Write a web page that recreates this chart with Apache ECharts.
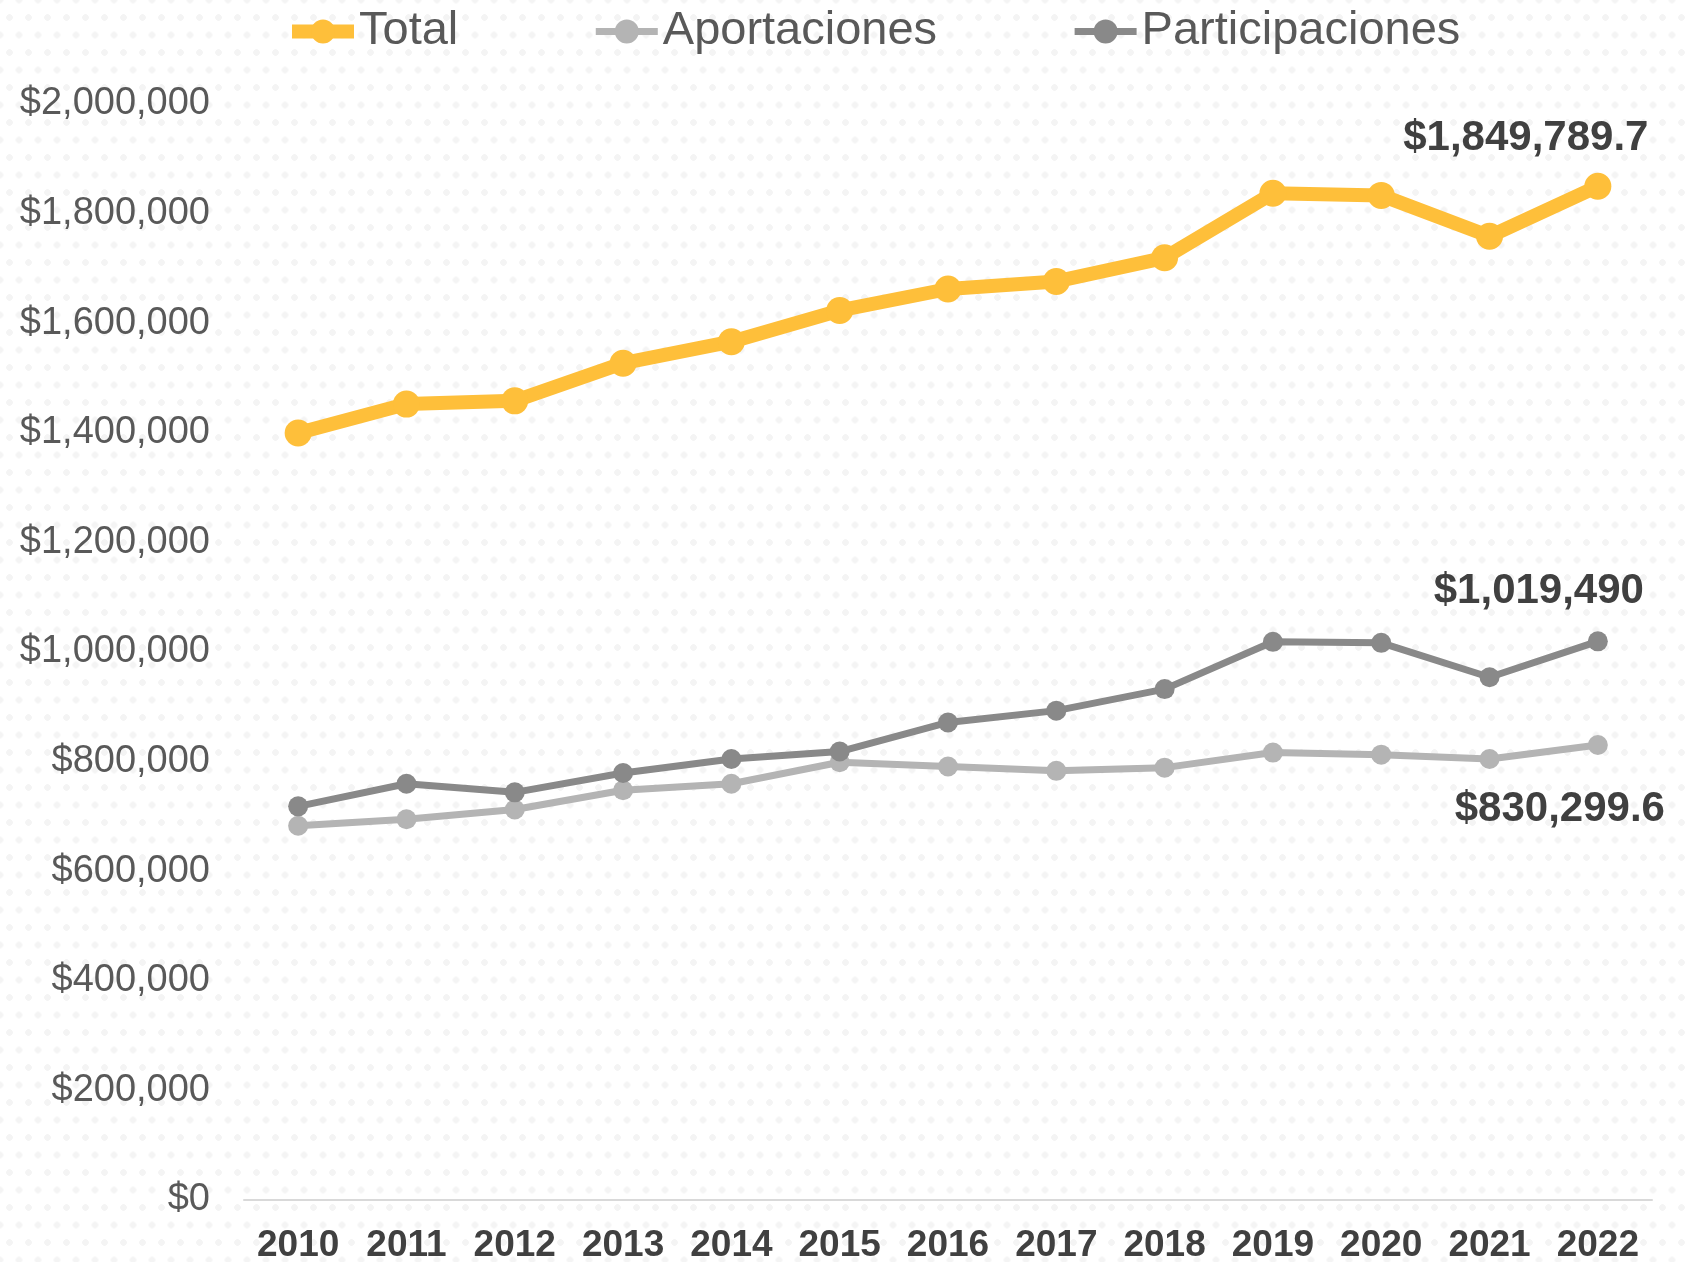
<!DOCTYPE html>
<html lang="es">
<head>
<meta charset="UTF-8">
<title>Total, Aportaciones y Participaciones</title>
<script src="https://cdn.jsdelivr.net/npm/echarts@6/dist/echarts.min.js"></script>
<style>
html, body { margin: 0; padding: 0; background: #fff; }
#chart {
width: 1686px;
height: 1262px;
background-color: #fff;
background-image:
radial-gradient(circle, #f4f4f4 3px, transparent 3.6px),
radial-gradient(circle, #f4f4f4 3px, transparent 3.6px);
background-size: 19px 35px, 19px 35px;
background-position: 0 0, 9.5px 17.5px;
}
</style>
</head>
<body>
<div id="chart"></div>
<script>
const years = ['2010', '2011', '2012', '2013', '2014', '2015', '2016', '2017', '2018', '2019', '2020', '2021', '2022'];
const total = [1399500, 1452400, 1458300, 1527000, 1566200, 1623200, 1662400, 1676200, 1719300, 1837100, 1833200, 1758600, 1849789.7];
const aportaciones = [683000, 694800, 712500, 747800, 759600, 798800, 791000, 783100, 789000, 816500, 812600, 804700, 830299.6];
const participaciones = [718400, 759600, 743900, 779200, 804700, 818400, 871400, 893000, 932300, 1018600, 1016700, 953900, 1019490];
const lastLabels = ['$1,849,789.7', '$830,299.6', '$1,019,490'];

const FONT = 'Arial, "Liberation Sans", sans-serif';

function withEndLabel(values, text, pos, offset) {
return values.map(function (v, i) {
if (i !== values.length - 1) return v;
return {
value: v,
label: {
show: true,
position: pos,
offset: offset,
formatter: text,
color: '#404040',
fontSize: 42,
fontWeight: 'bold',
fontFamily: FONT
}
};
});
}

const chart = echarts.init(document.getElementById('chart'), null, { renderer: 'canvas' });
chart.setOption({
animation: false,
backgroundColor: 'transparent',
textStyle: { fontFamily: FONT },
legend: {
left: 280,
top: 3,
itemWidth: 62,
itemHeight: 30,
itemGap: 134,
textStyle: { fontSize: 47, color: '#595959', fontFamily: FONT },
data: [
{ name: 'Total', lineStyle: { width: 14 } },
{ name: 'Aportaciones', lineStyle: { width: 7 } },
{ name: 'Participaciones', lineStyle: { width: 7 } }
]
},
grid: {
left: 244,
right: 34,
top: 104,
bottom: 62,
containLabel: false,
outerBoundsMode: 'none'
},
xAxis: {
type: 'category',
data: years,
boundaryGap: true,
axisLine: { lineStyle: { color: '#d9d9d9', width: 2 } },
axisTick: { show: false },
axisLabel: {
color: '#404040',
fontSize: 37,
fontWeight: 'bold',
fontFamily: FONT,
margin: 27,
interval: 0
}
},
yAxis: {
type: 'value',
min: 0,
max: 2000000,
interval: 200000,
axisLine: { show: false },
axisTick: { show: false },
splitLine: { show: false },
axisLabel: {
color: '#595959',
fontSize: 38,
fontFamily: FONT,
margin: 34,
formatter: function (v) { return '$' + v.toLocaleString('en-US'); }
}
},
series: [{
name: 'Total',
type: 'line',
data: withEndLabel(total, lastLabels[0], 'top', [-72, -8]),
symbol: 'circle',
symbolSize: 27,
color: '#febf3a',
lineStyle: { color: '#febf3a', width: 14 },
itemStyle: { color: '#febf3a' },
z: 3
}, {
name: 'Aportaciones',
type: 'line',
data: withEndLabel(aportaciones, lastLabels[1], 'bottom', [-38, 28]),
symbol: 'circle',
symbolSize: 20,
color: '#b4b4b4',
lineStyle: { color: '#b4b4b4', width: 7 },
itemStyle: { color: '#b4b4b4' },
z: 2
}, {
name: 'Participaciones',
type: 'line',
data: withEndLabel(participaciones, lastLabels[2], 'top', [-59, -14]),
symbol: 'circle',
symbolSize: 20,
color: '#898989',
lineStyle: { color: '#898989', width: 7 },
itemStyle: { color: '#898989' },
z: 2
}]
});
</script>
</body>
</html>
